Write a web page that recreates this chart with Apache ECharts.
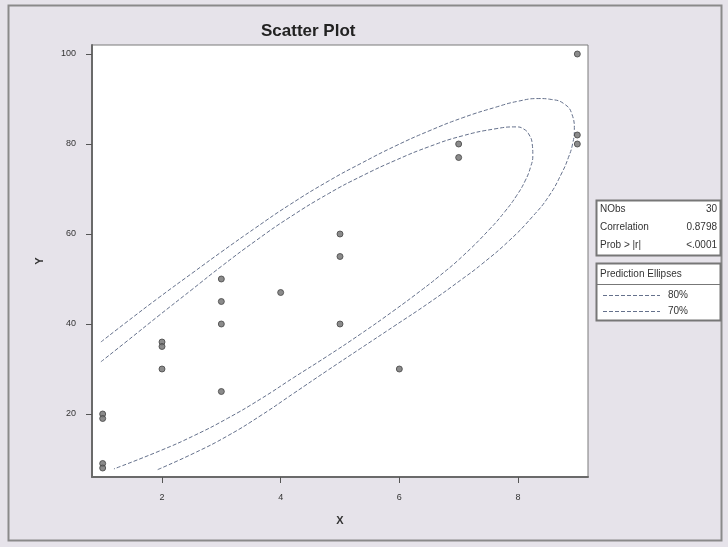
<!DOCTYPE html>
<html>
<head>
<meta charset="utf-8">
<style>
html,body{margin:0;padding:0;background:#e6e3ea;}
#c{width:728px;height:547px;}
</style>
<script src="https://cdn.jsdelivr.net/npm/echarts@6/dist/echarts.min.js"></script>
</head>
<body>
<div id="c"></div>
<script>
// ---- data ----
var pointX = [1, 1, 1, 1, 2, 2, 2, 3, 3, 3, 3, 4, 5, 5, 5, 6, 7, 7, 9, 9, 9];
var pointY = [20, 19, 9, 8, 36, 35, 30, 50, 45, 40, 25, 47, 60, 55, 40, 30, 80, 77, 100, 82, 80];

var ell80X = [0.97, 1.41, 1.95, 2.54, 3.01, 3.58, 4.14, 4.81, 5.37, 5.94, 6.50, 7.06, 7.63, 8.00, 8.35, 8.56, 8.78, 8.91, 8.95, 8.92, 8.85, 8.74, 8.52, 8.24, 7.85, 7.39, 7.06, 6.50, 5.91, 5.35, 4.78, 4.22, 3.67, 3.10, 2.54, 1.92];
var ell80Y = [36.0, 40.5, 45.9, 51.6, 56.1, 61.4, 66.4, 71.8, 75.8, 79.6, 82.9, 85.8, 88.2, 89.5, 90.1, 89.9, 88.9, 86.6, 83.2, 80.0, 77.0, 73.6, 68.4, 63.8, 58.5, 53.3, 50.0, 44.7, 39.5, 34.6, 29.6, 24.6, 19.7, 15.1, 11.3, 7.6];

var ell70X = [0.97, 1.41, 1.95, 2.49, 3.01, 3.58, 4.14, 4.81, 5.37, 5.94, 6.50, 7.06, 7.63, 7.97, 8.10, 8.19, 8.24, 8.25, 8.21, 8.12, 7.98, 7.78, 7.51, 7.06, 6.67, 6.38, 5.91, 5.35, 4.78, 4.22, 3.67, 3.10, 2.54, 1.98, 1.19];
var ell70Y = [31.6, 36.2, 41.9, 47.5, 52.9, 58.5, 63.6, 69.0, 72.9, 76.4, 79.4, 81.8, 83.4, 83.8, 83.3, 82.0, 80.0, 77.5, 74.8, 71.8, 68.6, 65.0, 60.9, 55.0, 50.6, 47.6, 43.0, 37.8, 32.8, 28.1, 23.4, 19.0, 15.2, 11.9, 7.8];

var xTicks = [2, 4, 6, 8];
var yTicks = [20, 40, 60, 80, 100];

var statLabels = ['NObs', 'Correlation', 'Prob > |r|'];
var statValues = ['30', '0.8798', '<.0001'];
var legendTitle = 'Prediction Ellipses';
var legendLabels = ['80%', '70%'];

// ---- build ----
function zip(a, b) { return a.map(function (v, i) { return [v, b[i]]; }); }

var font = 'Liberation Sans, Arial, sans-serif';
var ellColor = '#65718c';
var ellStyle = { color: ellColor, width: 1, type: [4, 2] };

var graphics = [
  { type: 'rect', shape: { x: 8.5, y: 5.5, width: 713, height: 535 }, style: { fill: null, stroke: '#8a8a8a', lineWidth: 2 }, z: 0 },
  { type: 'rect', shape: { x: 596.5, y: 200.5, width: 124, height: 55 }, style: { fill: '#ffffff', stroke: '#777', lineWidth: 2 } },
  { type: 'rect', shape: { x: 596.5, y: 263.5, width: 124, height: 57 }, style: { fill: '#ffffff', stroke: '#777', lineWidth: 2 } },
  { type: 'line', shape: { x1: 597, y1: 284.5, x2: 720, y2: 284.5 }, style: { stroke: '#777', lineWidth: 1 } },
  { type: 'text', x: 600, y: 274, style: { text: legendTitle, font: '10px ' + font, fill: '#333', textVerticalAlign: 'middle' } }
];
statLabels.forEach(function (lab, i) {
  var yy = 209 + i * 18;
  graphics.push({ type: 'text', x: 600, y: yy, style: { text: lab, font: '10px ' + font, fill: '#333', textVerticalAlign: 'middle' } });
  graphics.push({ type: 'text', x: 717, y: yy, style: { text: statValues[i], font: '10px ' + font, fill: '#333', textAlign: 'right', textVerticalAlign: 'middle' } });
});
legendLabels.forEach(function (lab, i) {
  var yy = 295 + i * 16;
  graphics.push({ type: 'line', shape: { x1: 603, y1: yy + 0.5, x2: 660, y2: yy + 0.5 }, style: { stroke: ellColor, lineWidth: 1, lineDash: [4, 2] } });
  graphics.push({ type: 'text', x: 668, y: yy, style: { text: lab, font: '10px ' + font, fill: '#333', textVerticalAlign: 'middle' } });
});

var chart = echarts.init(document.getElementById('c'), null, { renderer: 'canvas' });
chart.setOption({
  backgroundColor: '#e6e3ea',
  animation: false,
  title: {
    text: 'Scatter Plot', left: 256, top: 18,
    textStyle: { fontFamily: font, fontSize: 17, fontWeight: 'bold', color: '#222' }
  },
  grid: {
    left: 92, top: 45, right: 140, bottom: 70,
    show: true, backgroundColor: '#ffffff', borderColor: '#7a7a7a', borderWidth: 1
  },
  xAxis: {
    type: 'value', min: 0.82, max: 9.18,
    name: 'X', nameLocation: 'middle', nameGap: 38,
    nameTextStyle: { fontFamily: font, fontSize: 11, fontWeight: 'bold', color: '#333' },
    axisLine: { show: true, onZero: false, lineStyle: { color: '#6a6a6a', width: 2 } },
    axisTick: { show: true, length: 6, customValues: xTicks, lineStyle: { color: '#555' } },
    axisLabel: { customValues: xTicks, margin: 16, fontFamily: font, fontSize: 9, color: '#333' },
    splitLine: { show: false }
  },
  yAxis: {
    type: 'value', min: 6, max: 102,
    name: 'Y', nameLocation: 'middle', nameGap: 47, nameRotate: 90,
    nameTextStyle: { fontFamily: font, fontSize: 11, fontWeight: 'bold', color: '#333' },
    axisLine: { show: true, onZero: false, lineStyle: { color: '#6a6a6a', width: 2 } },
    axisTick: { show: true, length: 6, customValues: yTicks, lineStyle: { color: '#555' } },
    axisLabel: { customValues: yTicks, margin: 16, fontFamily: font, fontSize: 9, color: '#333' },
    splitLine: { show: false }
  },
  series: [
    { name: '80%', type: 'line', data: zip(ell80X, ell80Y), showSymbol: false, smooth: 0.5, lineStyle: ellStyle, z: 2 },
    { name: '70%', type: 'line', data: zip(ell70X, ell70Y), showSymbol: false, smooth: 0.5, lineStyle: ellStyle, z: 2 },
    { name: 'pts', type: 'scatter', data: zip(pointX, pointY), symbol: 'circle', symbolSize: 6,
      itemStyle: { color: '#6e6e6e', borderColor: '#444', borderWidth: 1 }, z: 3 }
  ],
  graphic: graphics
});
</script>
</body>
</html>
